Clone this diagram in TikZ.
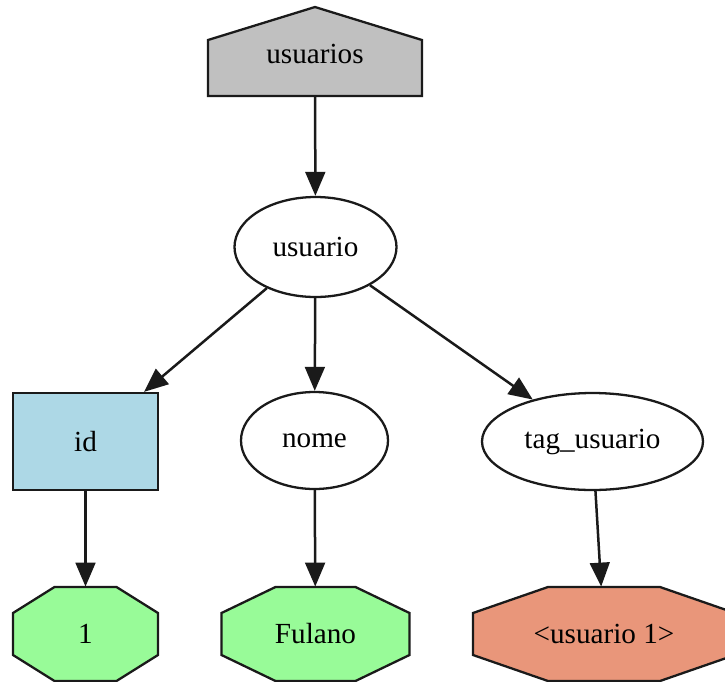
\documentclass[tikz,border=0pt]{standalone}
\usepackage{fontspec}
\setmainfont{Liberation Serif}
\usetikzlibrary{shapes.geometric,arrows.meta,backgrounds,calc}

\definecolor{housegray}{HTML}{C0C0C0}
\definecolor{idblue}{HTML}{ADD8E6}
\definecolor{valgreen}{HTML}{98FB98}
\definecolor{tagsalmon}{HTML}{E9967A}
\definecolor{ink}{HTML}{1A1A1A}

\tikzset{
  every node/.style={font=\fontsize{14}{16}\selectfont, inner sep=0pt},
  shapebox/.style={shape=rectangle, draw=none, minimum width=#1},
  ellnode/.style={shape=ellipse, draw=ink, line width=1.1pt, fill=white},
  rectnode/.style={shape=rectangle, draw=ink, line width=1.1pt, fill=idblue},
  outline/.style={draw=ink, line width=1.1pt, line join=miter},
  edge/.style={draw=ink, line width=1.2pt, -{Triangle[length=11.5pt,width=9.5pt]}},
}

% octagon drawn around a node: name, half width, half top edge, half height, half side, fill
\newcommand{\octoutline}[6]{%
  \path[outline, fill=#6]
    ($(#1.center)+(-#3,-#4)$) -- ($(#1.center)+(#3,-#4)$) --
    ($(#1.center)+(#2,-#5)$) -- ($(#1.center)+(#2,#5)$) --
    ($(#1.center)+(#3,#4)$) -- ($(#1.center)+(-#3,#4)$) --
    ($(#1.center)+(-#2,#5)$) -- ($(#1.center)+(-#2,-#5)$) -- cycle;}

\begin{document}
\begin{tikzpicture}[x=0.48pt, y=-0.48pt]
  \useasboundingbox (0,0) rectangle (725,681);
  \clip (0,0) rectangle (725,681);

  % nodes
  \node[shapebox=214*0.48pt, minimum height=86*0.48pt] (usuarios) at (315,53.5) {usuarios};
  \node[ellnode, minimum width=162*0.48pt, minimum height=100*0.48pt] (usuario) at (315.5,247) {usuario};
  \node[rectnode, minimum width=145*0.48pt, minimum height=97*0.48pt] (id) at (85.5,441.5) {id};
  \node[ellnode, minimum width=147*0.48pt, minimum height=97*0.48pt] (nome) at (314.5,440.5) {nome};
  \node[ellnode, minimum width=221*0.48pt, minimum height=97*0.48pt] (tag) at (592.5,441.5) {tag\_usuario};
  \node[shapebox=145*0.48pt, minimum height=94*0.48pt] (one) at (85.5,634) {1};
  \node[shapebox=188*0.48pt, minimum height=94*0.48pt] (fulano) at (315.5,634) {Fulano};
  \node[shapebox=262*0.48pt, minimum height=94*0.48pt] (usu1) at (604,634) {<usuario 1>};

  % filled outlines behind the texts
  \begin{scope}[on background layer]
    \path[outline, fill=housegray]
      ($(usuarios.center)+(-107,42.5)$) -- ($(usuarios.center)+(-107,-13.5)$) --
      ($(usuarios.center)+(0,-46.5)$) -- ($(usuarios.center)+(107,-13.5)$) --
      ($(usuarios.center)+(107,42.5)$) -- cycle;
    \octoutline{one}{72.5}{31}{47}{21}{valgreen}
    \octoutline{fulano}{94}{40}{47}{21}{valgreen}
    \octoutline{usu1}{131}{56}{47}{21}{tagsalmon}
  \end{scope}

  % connectors
  \draw[edge] (usuarios) -- (usuario);
  \draw[edge] (usuario) -- (id);
  \draw[edge] (usuario) -- (nome);
  \draw[edge] (usuario) -- (tag);
  \draw[edge] (id) -- (one);
  \draw[edge] (nome) -- (fulano);
  \draw[edge] (tag) -- (usu1);
\end{tikzpicture}
\end{document}
